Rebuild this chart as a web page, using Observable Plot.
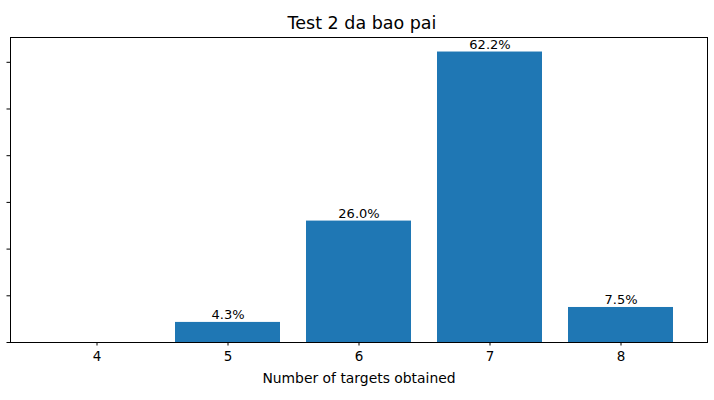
<!DOCTYPE html>
<html>
<head>
<meta charset="utf-8">
<script src="https://cdn.jsdelivr.net/npm/d3@7"></script>
<script src="https://cdn.jsdelivr.net/npm/@observablehq/plot@0.6"></script>
<style>
  html, body { margin: 0; padding: 0; background: #fff; }
  #chart svg { display: block; font-family: "DejaVu Sans", sans-serif; }
</style>
</head>
<body>
<div id="chart"></div>
<script>
const title = "Test 2 da bao pai";
const xLabel = "Number of targets obtained";
const xTicks = [4, 5, 6, 7, 8];
const categories = [5, 6, 7, 8];
const percents = [4.3, 26.0, 62.2, 7.5];
const yTicks = [0, 10, 20, 30, 40, 50, 60];

const data = categories.map((c, i) => ({cat: c, value: percents[i]}));
const yMax = d3.max(percents) * 1.05;

const chart = Plot.plot({
  width: 714,
  height: 400,
  marginLeft: 10,
  marginRight: 7,
  marginTop: 37,
  marginBottom: 58,
  style: {fontFamily: "DejaVu Sans, sans-serif", fontSize: "13px", color: "#000", background: "#fff"},
  x: {type: "band", domain: xTicks, paddingInner: 0.2, paddingOuter: 0.25, label: null},
  y: {domain: [0, yMax], label: null},
  marks: [
    Plot.barY(data, {x: "cat", y: "value", fill: "#1f77b4"}),
    Plot.text(data, {
      x: "cat", y: "value",
      text: d => d.value.toFixed(1) + "%",
      lineAnchor: "bottom", dy: -3,
      fontSize: 13, fill: "#000"
    }),
    Plot.axisX({ticks: xTicks, tickSize: 3.5, tickPadding: 5, fontSize: 13.5, label: null, stroke: "#000"}),
    Plot.axisY({ticks: yTicks, tickSize: 3.5, tickFormat: () => "", label: null, stroke: "#000"}),
    Plot.frame({stroke: "#000", strokeWidth: 1}),
    Plot.text([title], {
      frameAnchor: "top", lineAnchor: "bottom", dy: -9, dx: 3,
      text: d => d, fontSize: 17.5, fill: "#000"
    }),
    Plot.text([xLabel], {
      frameAnchor: "bottom", lineAnchor: "bottom", dy: 40,
      text: d => d, fontSize: 13.9, fill: "#000"
    })
  ]
});
document.getElementById("chart").appendChild(chart);
</script>
</body>
</html>
